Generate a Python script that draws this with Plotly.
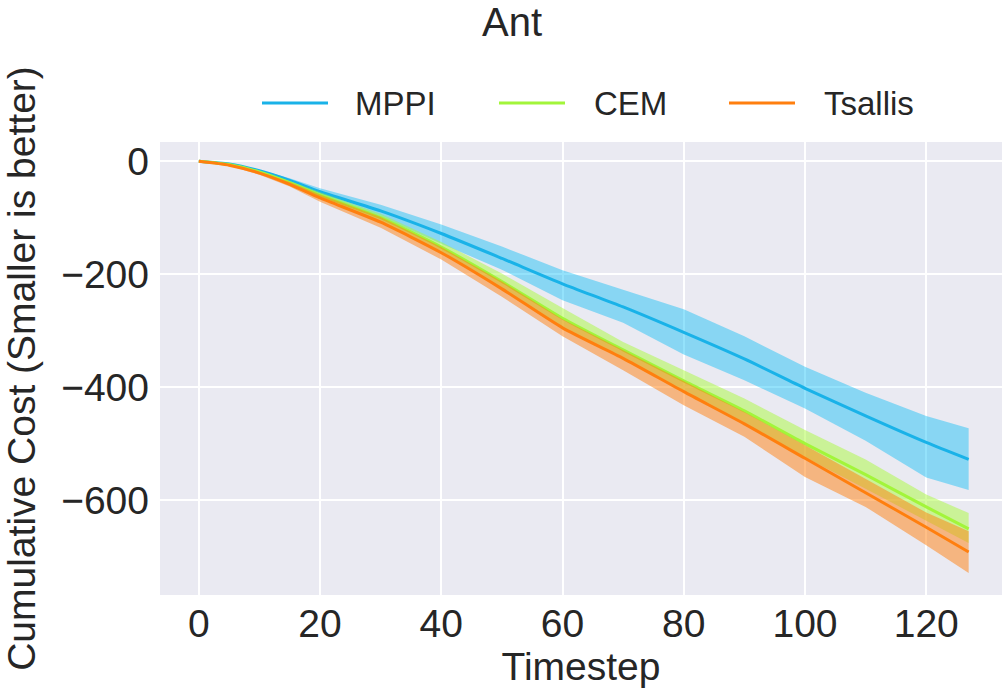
import plotly.graph_objects as go

# ---- data ----
timestep = [0, 5, 10, 15, 20, 30, 40, 50, 60, 70, 80, 90, 100, 110, 120, 127]

mppi_mean = [0, -5, -17, -34, -54, -88, -128, -172, -217, -258, -303, -350, -402, -451, -498, -528]
mppi_upper = [0, -4, -15, -30, -48, -77, -112, -151, -193, -227, -262, -310, -364, -410, -451, -473]
mppi_lower = [0, -6, -19, -37, -60, -98, -146, -192, -246, -286, -342, -388, -438, -495, -560, -582]

cem_mean = [0, -6, -19, -38, -60, -100, -152, -213, -278, -334, -389, -442, -500, -555, -612, -651]
cem_upper = [0, -5, -17, -35, -55, -93, -143, -199, -260, -320, -370, -420, -476, -528, -590, -623]
cem_lower = [0, -7, -21, -41, -65, -107, -161, -226, -293, -350, -407, -463, -524, -580, -636, -676]

tsallis_mean = [0, -7, -21, -41, -65, -108, -162, -226, -295, -349, -408, -465, -526, -587, -648, -692]
tsallis_upper = [0, -6, -19, -37, -59, -99, -152, -213, -280, -335, -390, -444, -503, -563, -622, -655]
tsallis_lower = [0, -8, -24, -45, -72, -118, -174, -240, -310, -370, -432, -488, -559, -612, -680, -729]

series_names = ["MPPI", "CEM", "Tsallis"]
x_ticks = [0, 20, 40, 60, 80, 100, 120]
y_ticks = [0, -200, -400, -600]

# ---- styles ----
line_colors = ["#19b2e8", "#a2f53a", "#ff7f0e"]
band_colors = ["rgba(0,185,245,0.42)", "rgba(170,250,60,0.5)", "rgba(255,127,14,0.5)"]
FONT = "Liberation Sans, Arial, sans-serif"
TXT = "#262626"

series = [
    (mppi_mean, mppi_upper, mppi_lower),
    (cem_mean, cem_upper, cem_lower),
    (tsallis_mean, tsallis_upper, tsallis_lower),
]

fig = go.Figure()
for name, (mean, up, lo), lc, bc in zip(series_names, series, line_colors, band_colors):
    fig.add_trace(go.Scatter(
        x=timestep + timestep[::-1], y=up + lo[::-1],
        fill="toself", fillcolor=bc, line=dict(width=0), mode="lines",
        hoverinfo="skip", showlegend=False))
    fig.add_trace(go.Scatter(
        x=timestep, y=mean, mode="lines", name=name,
        line=dict(color=lc, width=3, shape="spline", smoothing=0.6), showlegend=False))

W, H = 1002, 691
L, R, T, B = 160, 0, 142, 96
pw, ph = W - L - R, H - T - B


def px_x(px):
    return (px - L) / pw


def px_y(py):
    return (H - B - py) / ph


# custom legend
shapes = []
annotations = []
leg_line_x = [262, 499, 729]
leg_text_x = [353, 592, 822]
leg_y = 103
for name, lc, lx, tx in zip(series_names, line_colors, leg_line_x, leg_text_x):
    shapes.append(dict(type="line", xref="paper", yref="paper",
                       x0=px_x(lx), x1=px_x(lx + 66), y0=px_y(leg_y), y1=px_y(leg_y),
                       line=dict(color=lc, width=3)))
    annotations.append(dict(text=name, xref="paper", yref="paper",
                            x=px_x(tx), y=px_y(leg_y), xanchor="left", yanchor="middle",
                            showarrow=False, font=dict(size=33, color=TXT, family=FONT)))

fig.update_layout(
    width=W, height=H,
    margin=dict(l=L, r=R, t=T, b=B, pad=0),
    paper_bgcolor="white", plot_bgcolor="#EAEAF2",
    font=dict(family=FONT, color=TXT),
    title=dict(text="Ant", xref="container", yref="container",
               x=512 / W, y=1 - 22 / H, xanchor="center", yanchor="middle",
               font=dict(size=40, color=TXT, family=FONT)),
    shapes=shapes, annotations=annotations,
    showlegend=False,
)
fig.update_xaxes(
    range=[-6.4, 132.5], tickvals=x_ticks, showgrid=True, gridcolor="white", gridwidth=2,
    zeroline=False, showline=False, ticks="", tickfont=dict(size=39, color=TXT),
    ticklabelstandoff=2,
    title=dict(text="Timestep", font=dict(size=39, color=TXT), standoff=8),
    automargin=False,
)
fig.update_yaxes(
    range=[-768, 34], tickvals=y_ticks, showgrid=True, gridcolor="white", gridwidth=2,
    zeroline=False, showline=False, ticks="", tickfont=dict(size=39, color=TXT),
    ticklabelstandoff=10,
    title=dict(text="Cumulative Cost (Smaller is better)", font=dict(size=39, color=TXT), standoff=19),
    automargin=False,
)

fig.write_html("out.html")
